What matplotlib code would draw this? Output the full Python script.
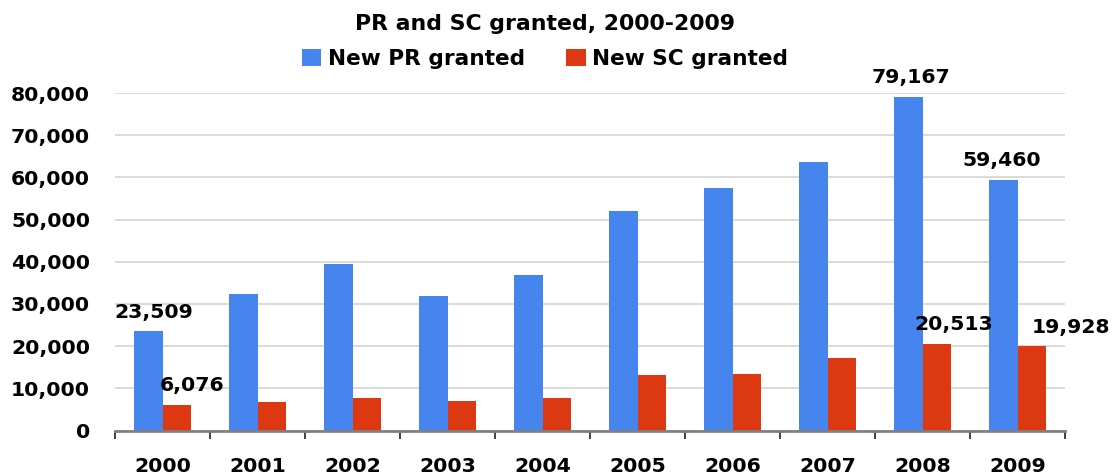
import matplotlib
matplotlib.use("Agg")
import matplotlib.pyplot as plt
from matplotlib.ticker import FuncFormatter, FixedLocator

# data
years = ["2000", "2001", "2002", "2003", "2004", "2005", "2006", "2007", "2008", "2009"]
new_pr = [23509, 32450, 39550, 31980, 36950, 52100, 57550, 63750, 79167, 59460]
new_sc = [6076, 6650, 7600, 6880, 7600, 13050, 13280, 17200, 20513, 19928]
labelled_years = ["2000", "2008", "2009"]

BLUE = "#4684EE"
RED = "#DC3912"
FONT = "DejaVu Sans"
FS = 14.7

plt.rcParams["font.family"] = FONT
plt.rcParams["font.weight"] = "bold"

fig = plt.figure(figsize=(11.15, 4.75), dpi=100)
ax = fig.add_axes([115 / 1115, 44.5 / 475, 950 / 1115, 337.5 / 475])

x = list(range(len(years)))
w = 0.298
pr_bars = ax.bar([i - w for i in x], new_pr, width=w, align="edge", color=BLUE, label="New PR granted", zorder=3)
sc_bars = ax.bar(x, new_sc, width=w, align="edge", color=RED, label="New SC granted", zorder=3)

ax.set_xlim(-0.5, len(years) - 0.5)
ax.set_ylim(0, 80000)
ax.set_yticks(range(0, 80001, 10000))
ax.yaxis.set_major_formatter(FuncFormatter(lambda v, p: f"{int(v):,}"))
ax.grid(axis="y", color="#d8d8d8", linewidth=1.3, zorder=0)
ax.tick_params(axis="y", length=0, pad=18, labelsize=FS)

ax.set_xticks(x)
ax.set_xticklabels(years)
ax.xaxis.set_minor_locator(FixedLocator([i - 0.5 for i in range(len(years) + 1)]))
ax.tick_params(axis="x", which="major", length=0, pad=19, labelsize=FS)
ax.tick_params(axis="x", which="minor", length=6, width=1.3, color="#333333", direction="out")

for s in ["top", "right", "left"]:
    ax.spines[s].set_visible(False)
ax.spines["bottom"].set_color("#808080")
ax.spines["bottom"].set_linewidth(2)
ax.spines["bottom"].set_zorder(4)

# value labels on a few years only
pr_dx = {"2000": 4, "2008": 2, "2009": -1}
sc_dx = {"2000": 11, "2008": 12, "2009": 28}
for i, yr in enumerate(years):
    if yr not in labelled_years:
        continue
    ax.annotate(f"{new_pr[i]:,}", (i - w / 2, new_pr[i]), xytext=(pr_dx[yr], 7),
                textcoords="offset points", ha="center", va="bottom",
                fontsize=FS, fontweight="bold", annotation_clip=False)
    ax.annotate(f"{new_sc[i]:,}", (i + w / 2, new_sc[i]), xytext=(sc_dx[yr], 7),
                textcoords="offset points", ha="center", va="bottom",
                fontsize=FS, fontweight="bold", annotation_clip=False)

fig.text(545 / 1115, 1 - 24 / 475, "PR and SC granted, 2000-2009",
         ha="center", va="center", fontsize=15.8, fontweight="bold")

fig.legend(handles=[pr_bars, sc_bars], loc="center", bbox_to_anchor=(545 / 1115, 1 - 59 / 475),
           ncol=2, frameon=False, fontsize=15.6, handlelength=0.9, handleheight=0.8,
           handletextpad=0.3, columnspacing=1.9, borderpad=0)

fig.savefig("out.png", dpi=100)
